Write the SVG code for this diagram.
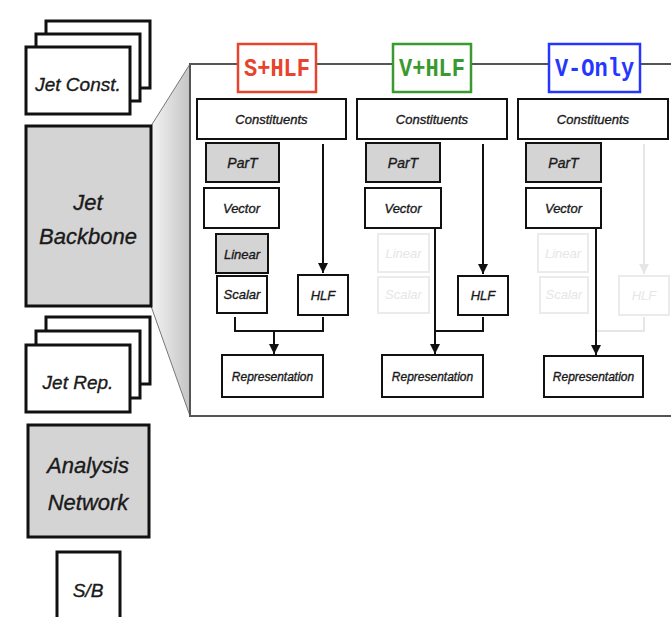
<svg xmlns="http://www.w3.org/2000/svg" width="671" height="617" viewBox="0 0 671 617">
<style>
.big{fill:#fff;stroke:#111;stroke-width:3}
.bigg{fill:#d4d4d4;stroke:#111;stroke-width:3}
.sm{fill:#fff;stroke:#111;stroke-width:2}
.smg{fill:#d4d4d4;stroke:#111;stroke-width:2}
.fd{fill:#fff;stroke:#ebebeb;stroke-width:2}
.t{font-family:"Liberation Sans",Arial,sans-serif;font-style:italic;fill:#1a1a1a;stroke:#1a1a1a;stroke-width:0.35;text-anchor:middle}
.ts{font-size:13px}
.tf{font-family:"Liberation Sans",Arial,sans-serif;font-style:italic;fill:#e6e6e6;text-anchor:middle;font-size:13px}
.ttl{font-family:"Liberation Mono","Courier New",monospace;font-weight:bold;font-size:22px;text-anchor:middle}
.c{fill:none;stroke:#111;stroke-width:2}
.cf{fill:none;stroke:#e6e6e6;stroke-width:2}
</style>
<defs>
<linearGradient id="fun" x1="0" y1="0" x2="1" y2="0">
<stop offset="0" stop-color="#f4f4f4"/>
<stop offset="1" stop-color="#c4c4c4"/>
</linearGradient>
<marker id="ar" markerUnits="userSpaceOnUse" markerWidth="10" markerHeight="11" refX="10" refY="5" orient="auto">
<path d="M0,0 L10,5 L0,10 z" fill="#111"/>
</marker>
<marker id="arf" markerUnits="userSpaceOnUse" markerWidth="10" markerHeight="11" refX="10" refY="5" orient="auto">
<path d="M0,0 L10,5 L0,10 z" fill="#e6e6e6"/>
</marker>
</defs>
<rect width="671" height="617" fill="#fff"/>

<!-- funnel and panel -->
<polygon points="151,126 190,64 190,416 151,306" fill="url(#fun)" stroke="#777" stroke-width="1"/>
<rect x="190" y="64" width="500" height="352" fill="#fff" stroke="#555" stroke-width="2"/>

<!-- left column -->
<g id="jet-const">
<rect class="big" x="46" y="21" width="104" height="67"/>
<rect class="big" x="36" y="34" width="104" height="67"/>
<rect class="big" x="26" y="47" width="104" height="67"/>
<text class="t" x="78" y="91" style="font-size:19px">Jet Const.</text>
</g>
<g id="jet-backbone">
<rect class="bigg" x="26" y="126" width="125" height="180"/>
<text class="t" x="88" y="210" style="font-size:22px">Jet</text>
<text class="t" x="88" y="244" style="font-size:22px">Backbone</text>
</g>
<g id="jet-rep">
<rect class="big" x="46" y="317" width="104" height="67"/>
<rect class="big" x="36" y="331" width="104" height="67"/>
<rect class="big" x="26" y="345" width="104" height="67"/>
<text class="t" x="78" y="389" style="font-size:19px">Jet Rep.</text>
</g>
<g id="analysis-network">
<rect class="bigg" x="28" y="425" width="121" height="112"/>
<text class="t" x="88" y="473" style="font-size:22px">Analysis</text>
<text class="t" x="88" y="510" style="font-size:22px">Network</text>
</g>
<g id="sb">
<rect class="big" x="57" y="552" width="63" height="72"/>
<text class="t" x="88" y="597" style="font-size:19px">S/B</text>
</g>

<!-- titles -->
<g id="title-shlf">
<rect x="238" y="44" width="78" height="48" fill="#fff" stroke="#e8432c" stroke-width="2.5"/>
<text class="ttl" transform="translate(277,76) scale(1,1.18)" fill="#e8432c">S+HLF</text>
</g>
<g id="title-vhlf">
<rect x="393" y="44" width="78" height="48" fill="#fff" stroke="#3b9a2f" stroke-width="2.5"/>
<text class="ttl" transform="translate(432,76) scale(1,1.18)" fill="#3b9a2f">V+HLF</text>
</g>
<g id="title-vonly">
<rect x="549" y="44" width="91" height="48" fill="#fff" stroke="#2636ff" stroke-width="2.5"/>
<text class="ttl" transform="translate(594.5,76) scale(1,1.18)" fill="#2636ff">V-Only</text>
</g>

<!-- connectors -->
<g id="connectors">
<path class="c" d="M323,144 V273" marker-end="url(#ar)"/>
<path class="c" d="M235,317 V331 H323 V317"/>
<path class="c" d="M274,331 V354" marker-end="url(#ar)"/>

<path class="c" d="M483,144 V274" marker-end="url(#ar)"/>
<path class="c" d="M483,317 V331 H435"/>
<path class="c" d="M435,228 V354" marker-end="url(#ar)"/>

<path class="cf" d="M644,144 V274" marker-end="url(#arf)"/>
<path class="cf" d="M644,317 V331 H597"/>
<path class="c" d="M596,228 V355" marker-end="url(#ar)"/>
</g>

<!-- column 1 -->
<g id="c1-constituents"><rect class="sm" x="197" y="99" width="149" height="40"/><text class="t ts" x="271.5" y="124">Constituents</text></g>
<g id="c1-part"><rect class="smg" x="206" y="143" width="73" height="39"/><text class="t" x="242.5" y="168" style="font-size:14px">ParT</text></g>
<g id="c1-vector"><rect class="sm" x="204" y="188" width="75" height="40"/><text class="t ts" x="241.5" y="213">Vector</text></g>
<g id="c1-linear"><rect class="smg" x="216" y="234" width="52" height="39"/><text class="t ts" x="242" y="259">Linear</text></g>
<g id="c1-scalar"><rect class="sm" x="217" y="276" width="50" height="37"/><text class="t ts" x="242" y="299">Scalar</text></g>
<g id="c1-hlf"><rect class="sm" x="298" y="275" width="50" height="40"/><text class="t ts" x="323" y="300">HLF</text></g>
<g id="c1-rep"><rect class="sm" x="222" y="355" width="101" height="42"/><text class="t" x="272.5" y="381" style="font-size:12px">Representation</text></g>

<!-- column 2 -->
<g id="c2-constituents"><rect class="sm" x="357" y="99" width="150" height="40"/><text class="t ts" x="432" y="124">Constituents</text></g>
<g id="c2-part"><rect class="smg" x="366" y="143" width="74" height="39"/><text class="t" x="403" y="168" style="font-size:14px">ParT</text></g>
<g id="c2-vector"><rect class="sm" x="365" y="188" width="76" height="40"/><text class="t ts" x="403" y="213">Vector</text></g>
<g id="c2-linear"><rect class="fd" x="378" y="234" width="51" height="38"/><text class="tf" x="403.5" y="258">Linear</text></g>
<g id="c2-scalar"><rect class="fd" x="378" y="277" width="51" height="36"/><text class="tf" x="403.5" y="299">Scalar</text></g>
<g id="c2-hlf"><rect class="sm" x="458" y="276" width="50" height="39"/><text class="t ts" x="483" y="300">HLF</text></g>
<g id="c2-rep"><rect class="sm" x="382" y="355" width="101" height="42"/><text class="t" x="432.5" y="381" style="font-size:12px">Representation</text></g>

<!-- column 3 -->
<g id="c3-constituents"><rect class="sm" x="518" y="99" width="150" height="40"/><text class="t ts" x="593" y="124">Constituents</text></g>
<g id="c3-part"><rect class="smg" x="526" y="143" width="75" height="39"/><text class="t" x="563.5" y="168" style="font-size:14px">ParT</text></g>
<g id="c3-vector"><rect class="sm" x="526" y="188" width="75" height="40"/><text class="t ts" x="563.5" y="213">Vector</text></g>
<g id="c3-linear"><rect class="fd" x="538" y="234" width="50" height="38"/><text class="tf" x="563" y="258">Linear</text></g>
<g id="c3-scalar"><rect class="fd" x="540" y="277" width="48" height="36"/><text class="tf" x="564" y="299">Scalar</text></g>
<g id="c3-hlf"><rect class="fd" x="619" y="276" width="50" height="39"/><text class="tf" x="644" y="300">HLF</text></g>
<g id="c3-rep"><rect class="sm" x="544" y="356" width="99" height="41"/><text class="t" x="593.5" y="381" style="font-size:12px">Representation</text></g>
</svg>
